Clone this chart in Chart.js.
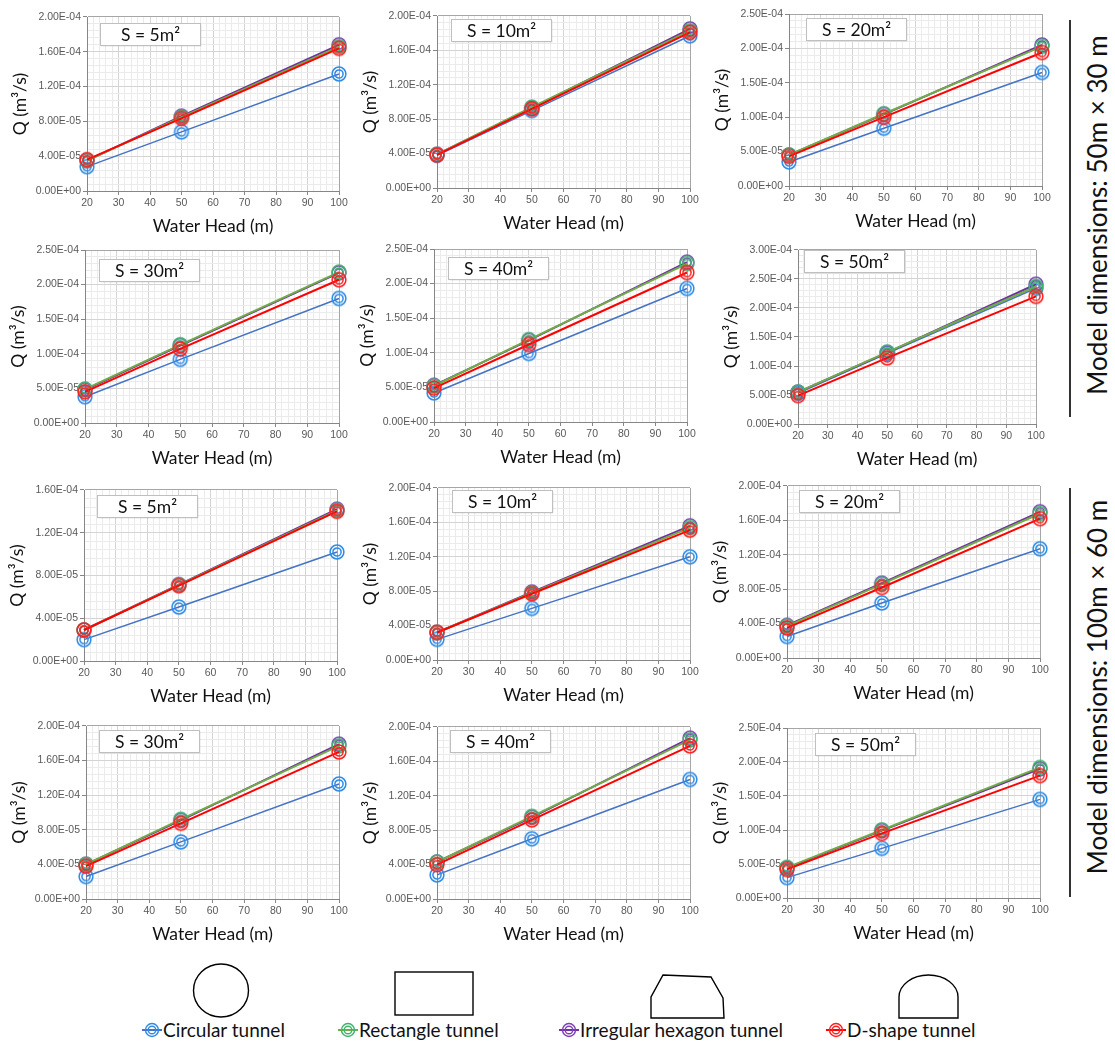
<!DOCTYPE html>
<html>
<head>
<meta charset="utf-8">
<script src="https://cdn.jsdelivr.net/npm/chart.js@4.4.1/dist/chart.umd.min.js"></script>
<style>
  body { margin: 0; background: #fff; width: 1115px; height: 1042px; position: relative; overflow: hidden; }
  canvas { position: absolute; }
  #deco { position: absolute; left: 0; top: 0; }
</style>
</head>
<body>
<svg id="deco" width="1115" height="1042" xmlns="http://www.w3.org/2000/svg">
  <g fill="none" stroke="#000" stroke-width="1.4">
    <ellipse cx="221" cy="990.5" rx="27.5" ry="26.5"/>
    <rect x="395" y="972" width="78" height="43"/>
    <polygon points="663,975 711,977 723,998 724,1018 651,1018 651,997"/>
    <path d="M899,1018 L899,997 A29.5,22 0 0 1 958,997 L958,1018 Z"/>
  </g>
  <g stroke="#000" stroke-width="1.6">
    <line x1="1070" y1="20" x2="1070" y2="417"/>
    <line x1="1070" y1="488" x2="1070" y2="897"/>
  </g>
</svg>
<script>
// water head (x) and the panels' tunnel areas
const heads = [20, 50, 100];
const areas = [5, 10, 20, 30, 40, 50, 5, 10, 20, 30, 40, 50];
const yMax = [2e-4, 2e-4, 2.5e-4, 2.5e-4, 2.5e-4, 3e-4, 1.6e-4, 2e-4, 2e-4, 2e-4, 2e-4, 2.5e-4];
const yStep = [4e-5, 4e-5, 5e-5, 5e-5, 5e-5, 5e-5, 4e-5, 4e-5, 4e-5, 4e-5, 4e-5, 5e-5];
const xTicks = [20, 30, 40, 50, 60, 70, 80, 90, 100];

// Q (m3/s) at heads 20, 50, 100 for each panel
const circular = [
  [2.8e-5, 6.8e-5, 1.345e-4], [3.8e-5, 9.0e-5, 1.77e-4], [3.5e-5, 8.4e-5, 1.65e-4],
  [3.8e-5, 9.2e-5, 1.80e-4], [4.2e-5, 9.9e-5, 1.93e-4], [5.3e-5, 1.22e-4, 2.34e-4],
  [2.0e-5, 5.05e-5, 1.02e-4], [2.4e-5, 6.0e-5, 1.20e-4], [2.5e-5, 6.4e-5, 1.27e-4],
  [2.6e-5, 6.6e-5, 1.33e-4], [2.8e-5, 7.0e-5, 1.39e-4], [3.0e-5, 7.3e-5, 1.45e-4]
];
const rectangle = [
  [3.5e-5, 8.5e-5, 1.66e-4], [3.9e-5, 9.4e-5, 1.83e-4], [4.5e-5, 1.05e-4, 2.03e-4],
  [4.9e-5, 1.13e-4, 2.18e-4], [5.2e-5, 1.19e-4, 2.29e-4], [5.5e-5, 1.24e-4, 2.37e-4],
  [2.9e-5, 7.1e-5, 1.41e-4], [3.2e-5, 7.8e-5, 1.54e-4], [3.7e-5, 8.6e-5, 1.68e-4],
  [4.0e-5, 9.2e-5, 1.77e-4], [4.3e-5, 9.6e-5, 1.85e-4], [4.5e-5, 1.0e-4, 1.92e-4]
];
const hexagon = [
  [3.5e-5, 8.6e-5, 1.68e-4], [3.9e-5, 9.3e-5, 1.85e-4], [4.5e-5, 1.04e-4, 2.05e-4],
  [4.8e-5, 1.12e-4, 2.17e-4], [5.3e-5, 1.18e-4, 2.31e-4], [5.5e-5, 1.23e-4, 2.41e-4],
  [2.9e-5, 7.15e-5, 1.42e-4], [3.2e-5, 7.9e-5, 1.56e-4], [3.8e-5, 8.7e-5, 1.70e-4],
  [4.0e-5, 9.1e-5, 1.79e-4], [4.3e-5, 9.5e-5, 1.87e-4], [4.4e-5, 9.9e-5, 1.90e-4]
];
const dshape = [
  [3.6e-5, 8.35e-5, 1.64e-4], [3.85e-5, 9.2e-5, 1.81e-4], [4.3e-5, 1.0e-4, 1.94e-4],
  [4.5e-5, 1.07e-4, 2.07e-4], [4.9e-5, 1.12e-4, 2.16e-4], [4.9e-5, 1.14e-4, 2.20e-4],
  [2.9e-5, 7.05e-5, 1.40e-4], [3.2e-5, 7.7e-5, 1.51e-4], [3.5e-5, 8.2e-5, 1.62e-4],
  [3.8e-5, 8.75e-5, 1.70e-4], [4.0e-5, 9.2e-5, 1.78e-4], [4.2e-5, 9.5e-5, 1.80e-4]
];
const seriesNames = ['Circular tunnel', 'Rectangle tunnel', 'Irregular hexagon tunnel', 'D-shape tunnel'];
const modelLabels = ['Model dimensions: 50m × 30 m', 'Model dimensions: 100m × 60 m'];
const xTitle = 'Water Head (m)';
const yTitle = 'Q (m³/s)';

const series = [circular, rectangle, hexagon, dshape];
const lineColors = ['#4472C4', '#70AD47', '#7030A0', '#FF0000'];
const markColors = ['#2E8BE6', '#3CB46E', '#7D3FB8', '#FF2020'];
const drawOrder = [4, 2, 3, 1]; // lower is drawn on top

// plot area boxes [left, top, right, bottom, label box dx, dy]
const layout = [
  [87, 17, 339, 191, 13, 6], [437, 16, 690, 188, 14, 3], [789, 14, 1042, 186, 17, 4],
  [85, 250, 339, 423, 14, 9], [434, 249, 687, 422, 14, 8], [798, 250, 1036, 424, 6, 0],
  [84, 490, 337, 661, 13, 5], [437, 488, 690, 660, 15, 2], [787, 486, 1040, 658, 12, 4],
  [86, 726, 339, 899, 13, 4], [437, 727, 690, 899, 13, 3], [787, 728, 1040, 898, 28, 5]
];
const PADL = 90, PADT = 14, PADR = 12, XH = 52;
const tickFont = { family: 'Liberation Sans', size: 10.5 };
const titleFont = { family: 'Lato', size: 17.5 };

function sci(v) {
  if (Math.abs(v) < 1e-12) return '0.00E+00';
  const [m, e] = v.toExponential(2).split('e');
  const n = parseInt(e, 10);
  return m + 'E' + (n < 0 ? '-' : '+') + String(Math.abs(n)).padStart(2, '0');
}

function ring(color) {
  const c = document.createElement('canvas');
  c.width = 18; c.height = 18;
  const g = c.getContext('2d');
  g.strokeStyle = color; g.lineWidth = 1.5;
  g.beginPath(); g.arc(9, 9, 6.9, 0, Math.PI * 2); g.stroke();
  g.beginPath(); g.arc(9, 9, 4.1, 0, Math.PI * 2); g.stroke();
  return c;
}
const markers = markColors.map(ring);

const sbox = {
  id: 'sbox',
  afterDraw(chart, args, o) {
    const { left, top } = chart.chartArea;
    const g = chart.ctx;
    const x = left + o.dx, y = top + o.dy, w = 100, h = 22;
    g.save();
    g.fillStyle = 'rgba(0,0,0,0.10)';
    g.fillRect(x + 1.5, y + 1.5, w, h);
    g.fillStyle = '#fff';
    g.fillRect(x, y, w, h);
    g.strokeStyle = '#bfbfbf'; g.lineWidth = 1;
    g.strokeRect(x + 0.5, y + 0.5, w, h);
    g.fillStyle = '#111';
    g.font = '17.5px Lato';
    g.textAlign = 'center'; g.textBaseline = 'middle';
    g.fillText(o.text, x + w / 2 + 0.5, y + h / 2 + 1.5);
    g.restore();
  }
};

const gridCol = (last) => (c) => c.index === last ? '#a6a6a6' : (c.index % 5 === 0 ? '#d4d4d4' : '#ebebeb');
const tickCol = (c) => c.index % 5 === 0 ? '#868686' : 'rgba(0,0,0,0)';

function makePanel(i) {
  const [L, T, R, B, bx, by] = layout[i];
  const cv = document.createElement('canvas');
  cv.width = R - L + PADL + PADR;
  cv.height = B - T + PADT + XH;
  cv.style.left = (L - PADL) + 'px';
  cv.style.top = (T - PADT) + 'px';
  document.body.appendChild(cv);

  const minor = yStep[i] / 5;
  const nY = Math.round(yMax[i] / minor);
  const xMinor = (xTicks[1] - xTicks[0]) / 5;
  const x0 = xTicks[0], x1 = xTicks[xTicks.length - 1];
  const nX = Math.round((x1 - x0) / xMinor);

  new Chart(cv, {
    type: 'line',
    data: {
      datasets: series.map((s, k) => ({
        label: seriesNames[k],
        data: heads.map((h, j) => ({ x: h, y: s[i][j] })),
        borderColor: lineColors[k],
        borderWidth: k === 0 ? 1.5 : 2,
        pointStyle: markers[k],
        pointRadius: 7,
        order: drawOrder[k],
        clip: false,
        tension: 0,
        fill: false
      }))
    },
    options: {
      responsive: false,
      animation: false,
      events: [],
      layout: { padding: { top: PADT, right: PADR, left: 0, bottom: 0 } },
      plugins: {
        legend: { display: false },
        tooltip: { enabled: false },
        sbox: { text: 'S = ' + areas[i] + 'm²', dx: bx, dy: by }
      },
      scales: {
        x: {
          type: 'linear', min: x0, max: x1,
          afterBuildTicks: (s) => { s.ticks = []; for (let k = 0; k <= nX; k++) s.ticks.push({ value: x0 + k * xMinor }); },
          afterFit: (s) => { s.height = XH; },
          ticks: {
            autoSkip: false, maxRotation: 0, minRotation: 0, padding: 2,
            color: '#595959', font: tickFont,
            callback: (v, idx) => idx % 5 === 0 ? String(Math.round(v)) : ''
          },
          grid: { color: gridCol(nX), tickColor: tickCol, tickLength: 4, lineWidth: 1 },
          border: { color: '#868686', width: 1 },
          title: { display: true, text: xTitle, color: '#111', font: titleFont, padding: { top: 0, bottom: 6 } }
        },
        y: {
          min: 0, max: yMax[i],
          afterBuildTicks: (s) => { s.ticks = []; for (let k = 0; k <= nY; k++) s.ticks.push({ value: k * minor }); },
          afterFit: (s) => { s.width = PADL; },
          ticks: {
            autoSkip: false, padding: 2, color: '#595959', font: tickFont,
            callback: (v, idx) => idx % 5 === 0 ? sci(v) : ''
          },
          grid: { color: gridCol(nY), tickColor: tickCol, tickLength: 4, lineWidth: 1 },
          border: { color: '#868686', width: 1 },
          title: { display: true, text: yTitle, color: '#111', font: titleFont, padding: { top: 13, bottom: 0 } }
        }
      }
    },
    plugins: [sbox]
  });
}

for (let i = 0; i < 12; i++) makePanel(i);

// right-hand model labels and bottom legend
const NS = 'http://www.w3.org/2000/svg';
const deco = document.getElementById('deco');
function el(tag, attrs, text) {
  const e = document.createElementNS(NS, tag);
  for (const k in attrs) e.setAttribute(k, attrs[k]);
  if (text) e.textContent = text;
  deco.appendChild(e);
  return e;
}
[[1107, 215], [1107, 687]].forEach(([x, y], k) => {
  el('text', { x, y, 'text-anchor': 'middle', transform: `rotate(-90 ${x} ${y})`,
    'font-family': 'Lato', 'font-size': 26, fill: '#111' }, modelLabels[k]);
});
const legendX = [142, 338, 559, 826];
const legendY = 1030;
seriesNames.forEach((name, k) => {
  const x = legendX[k];
  el('line', { x1: x, y1: legendY, x2: x + 20, y2: legendY, stroke: lineColors[k], 'stroke-width': 2 });
  el('circle', { cx: x + 10, cy: legendY, r: 6.5, fill: 'none', stroke: markColors[k], 'stroke-width': 1.4 });
  el('circle', { cx: x + 10, cy: legendY, r: 3.8, fill: 'none', stroke: markColors[k], 'stroke-width': 1.4 });
  el('text', { x: x + 21, y: legendY + 6.5, 'font-family': 'Lato', 'font-size': 19, fill: '#111' }, name);
});
</script>
</body>
</html>
